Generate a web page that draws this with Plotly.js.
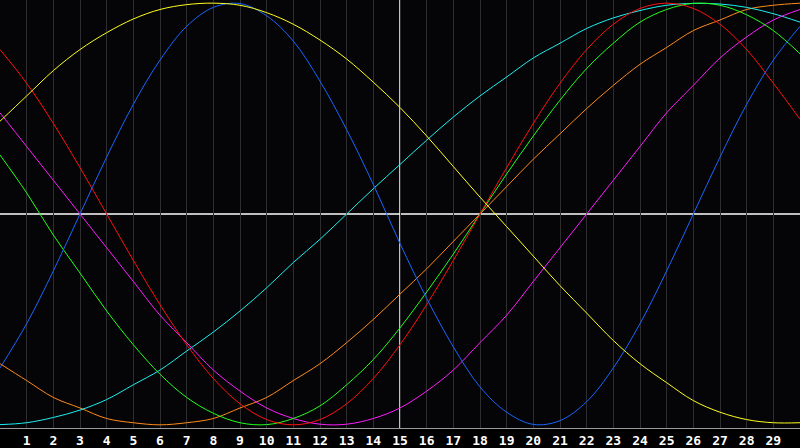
<!DOCTYPE html>
<html>
<head>
<meta charset="utf-8">
<script src="https://cdn.plot.ly/plotly-3.0.1.min.js"></script>
<style>
    html, body { margin: 0; padding: 0; background: #000; }
    #chart { width: 800px; height: 448px; }
</style>
</head>
<body>
<div id="chart"></div>
<script>
"use strict";

var days = [0, 1, 2, 3, 4, 5, 6, 7, 8, 9, 10, 11, 12, 13, 14, 15, 16, 17, 18, 19, 20, 21, 22, 23, 24, 25, 26, 27, 28, 29, 30];

var tickDays = [1, 2, 3, 4, 5, 6, 7, 8, 9, 10, 11, 12, 13, 14, 15, 16, 17, 18, 19, 20, 21, 22, 23, 24, 25, 26, 27, 28, 29];

var yellowVals = [0.44, 0.56, 0.68, 0.78, 0.86, 0.925, 0.97, 0.993, 1.0, 0.99, 0.955, 0.90, 0.825, 0.735, 0.625, 0.505,
    0.37, 0.225, 0.08, -0.06, -0.20, -0.34, -0.47, -0.60, -0.71, -0.80, -0.885, -0.94, -0.975, -0.99, -0.99];

var blueVals = [-0.73, -0.52, -0.27, 0.0, 0.27, 0.52, 0.73, 0.89, 0.98, 0.998, 0.94, 0.82, 0.63, 0.40, 0.14, -0.14,
    -0.40, -0.63, -0.82, -0.94, -0.998, -0.98, -0.89, -0.73, -0.52, -0.27, 0.0, 0.27, 0.52, 0.73, 0.89];

var redVals = [0.78, 0.62, 0.43, 0.22, 0.0, -0.22, -0.43, -0.62, -0.78, -0.90, -0.975, -1.0, -0.975, -0.90, -0.78, -0.62,
    -0.43, -0.22, 0.0, 0.22, 0.43, 0.62, 0.78, 0.90, 0.975, 1.0, 0.975, 0.90, 0.78, 0.62, 0.45];

var greenVals = [0.28, 0.10, -0.10, -0.28, -0.46, -0.62, -0.76, -0.87, -0.945, -0.99, -0.999, -0.97, -0.91, -0.81, -0.69, -0.54,
    -0.37, -0.19, 0.0, 0.19, 0.37, 0.54, 0.69, 0.81, 0.91, 0.97, 0.999, 0.99, 0.945, 0.87, 0.76];

var magentaVals = [0.48, 0.32, 0.16, 0.0, -0.16, -0.32, -0.48, -0.61, -0.74, -0.84, -0.92, -0.97, -0.997, -0.997, -0.97, -0.92,
    -0.84, -0.74, -0.61, -0.48, -0.32, -0.16, 0.0, 0.16, 0.32, 0.48, 0.61, 0.74, 0.84, 0.92, 0.97];

var cyanVals = [-0.999, -0.99, -0.965, -0.93, -0.88, -0.81, -0.74, -0.65, -0.56, -0.46, -0.35, -0.23, -0.12, 0.0, 0.12, 0.235,
    0.35, 0.46, 0.56, 0.65, 0.74, 0.81, 0.88, 0.93, 0.965, 0.99, 0.999, 0.996, 0.98, 0.95, 0.91];

var orangeVals = [-0.71, -0.79, -0.87, -0.92, -0.97, -0.99, -1.0, -0.99, -0.97, -0.92, -0.87, -0.79, -0.71, -0.61, -0.50, -0.38,
    -0.26, -0.13, 0.0, 0.13, 0.26, 0.38, 0.50, 0.61, 0.71, 0.79, 0.87, 0.92, 0.97, 0.99, 1.0];

function curve(vals, color) {
    return {
        x: days,
        y: vals,
        type: 'scatter',
        mode: 'lines',
        line: { color: color, width: 1, shape: 'spline', smoothing: 1 },
        hoverinfo: 'skip',
    };
}

var traces = [
    curve(orangeVals, '#ff8a1c'),
    curve(cyanVals, '#1cf0f0'),
    curve(magentaVals, '#ff1cff'),
    curve(greenVals, '#22ff1c'),
    curve(redVals, '#ff1010'),
    curve(blueVals, '#1a66ff'),
    curve(yellowVals, '#ffff1c'),
];

var layout = {
    width: 800,
    height: 448,
    margin: { l: 0, r: 0, t: 0, b: 20 },
    paper_bgcolor: '#000000',
    plot_bgcolor: '#050508',
    showlegend: false,
    xaxis: {
        range: [0, 30],
        tickvals: tickDays,
        ticktext: tickDays.map(String),
        ticks: '',
        showgrid: true,
        gridcolor: '#2e2e31',
        gridwidth: 1,
        zeroline: false,
        showline: true,
        mirror: true,
        linecolor: '#9a9a9a',
        linewidth: 1,
        tickfont: { family: 'DejaVu Sans Mono', size: 13, color: '#ffffff', weight: 'bold' },
        fixedrange: true,
    },
    yaxis: {
        range: [-1.015, 1.015],
        showticklabels: false,
        ticks: '',
        showgrid: false,
        zeroline: false,
        showline: true,
        linecolor: '#9a9a9a',
        linewidth: 1,
        fixedrange: true,
    },
    shapes: [
        { type: 'line', xref: 'x', yref: 'paper', x0: 15, x1: 15, y0: 0, y1: 1,
          line: { color: '#ffffff', width: 1.5 }, layer: 'below' },
        { type: 'line', xref: 'paper', yref: 'y', x0: 0, x1: 1, y0: 0, y1: 0,
          line: { color: '#ffffff', width: 1.5 }, layer: 'below' },
    ],
};

Plotly.newPlot('chart', traces, layout, { displayModeBar: false, staticPlot: true });
</script>
</body>
</html>
